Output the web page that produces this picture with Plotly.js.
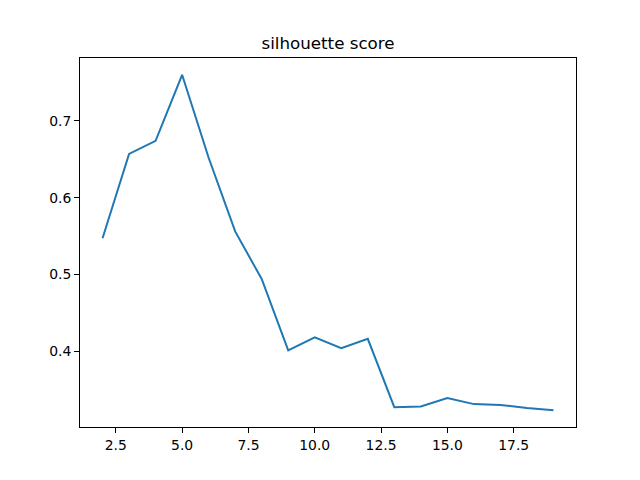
<!DOCTYPE html>
<html>
<head>
<meta charset="utf-8">
<script src="https://cdn.plot.ly/plotly-3.0.1.min.js"></script>
<style>
  body { margin: 0; }
  #chart { width: 640px; height: 480px; }
</style>
</head>
<body>
<div id="chart"></div>
<script>
// number of clusters
var clusters = [2, 3, 4, 5, 6, 7, 8, 9, 10, 11, 12, 13, 14, 15, 16, 17, 18, 19];
// silhouette score per cluster count
var scores = [0.547, 0.657, 0.674, 0.760, 0.652, 0.556, 0.494, 0.401, 0.418, 0.404,
              0.416, 0.327, 0.328, 0.339, 0.331, 0.330, 0.326, 0.323];

var xTicks = [2.5, 5.0, 7.5, 10.0, 12.5, 15.0, 17.5];
var yTicks = [0.4, 0.5, 0.6, 0.7];

var trace = {
  x: clusters,
  y: scores,
  type: 'scatter',
  mode: 'lines',
  line: { color: '#1f77b4', width: 2 },
  hoverinfo: 'x+y'
};

var axisStyle = {
  showgrid: false,
  zeroline: false,
  showline: true,
  mirror: true,
  linecolor: 'black',
  linewidth: 1,
  ticks: 'outside',
  ticklen: 5,
  tickcolor: 'black',
  tickfont: { family: 'DejaVu Sans', size: 13.9, color: 'black' }
};

var layout = {
  width: 640,
  height: 480,
  paper_bgcolor: 'white',
  plot_bgcolor: 'white',
  showlegend: false,
  margin: { l: 80, r: 64, t: 58, b: 53 },
  title: {
    text: 'silhouette score',
    font: { family: 'DejaVu Sans', size: 16.7, color: 'black' },
    x: 0.5,
    xref: 'paper',
    xanchor: 'center',
    y: 1,
    yref: 'paper',
    yanchor: 'bottom',
    pad: { b: 9 }
  },
  xaxis: Object.assign({}, axisStyle, {
    range: [1.15, 19.85],
    tickvals: xTicks,
    ticktext: xTicks.map(function (v) { return v.toFixed(1); })
  }),
  yaxis: Object.assign({}, axisStyle, {
    range: [0.3012, 0.7819],
    tickvals: yTicks,
    ticktext: yTicks.map(function (v) { return v.toFixed(1); })
  })
};

Plotly.newPlot('chart', [trace], layout, { displayModeBar: false, staticPlot: true });
</script>
</body>
</html>
